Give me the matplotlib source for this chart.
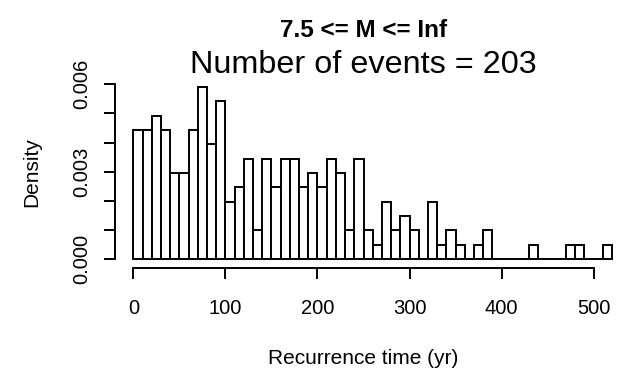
import matplotlib
matplotlib.use("Agg")
import matplotlib.pyplot as plt
import numpy as np

# Data: histogram counts per 10-yr bin (0..520)
bin_edges = list(range(0, 530, 10))
counts = [9, 9, 10, 9, 6, 6, 9, 12, 8, 11,
          4, 5, 7, 2, 7, 5, 7, 7, 5, 6,
          5, 7, 6, 2, 7, 2, 1, 4, 2, 3,
          2, 0, 4, 1, 2, 1, 0, 1, 2, 0,
          0, 0, 0, 1, 0, 0, 0, 1, 1, 0,
          0, 1]
n_events = 203
bin_width = 10
density = [c / (n_events * bin_width) for c in counts]

xticks = [0, 100, 200, 300, 400, 500]
yticks = [0.000, 0.001, 0.002, 0.003, 0.004, 0.005, 0.006]
ytick_labels = ["0.000", "", "", "0.003", "", "", "0.006"]

plt.rcParams['font.family'] = ['Liberation Sans', 'DejaVu Sans']

W, H = 625, 377
fig = plt.figure(figsize=(W / 100, H / 100), dpi=100)

left_px, right_px = 115, 612
top_px, bottom_px = 80, 268.3
ax = fig.add_axes([left_px / W, 1 - bottom_px / H,
                   (right_px - left_px) / W, (bottom_px - top_px) / H])

lw = 1.4
ax.bar(bin_edges[:-1], density, width=bin_width, align='edge',
       facecolor='white', edgecolor='black', linewidth=lw, clip_on=False)

ax.set_xlim(-20, 520)
ax.set_ylim(-0.00032, 0.00615)

for s in ['top', 'right']:
    ax.spines[s].set_visible(False)
ax.spines['left'].set_bounds(0, 0.006)
ax.spines['bottom'].set_bounds(0, 500)
ax.spines['left'].set_linewidth(lw)
ax.spines['bottom'].set_linewidth(lw)

ax.set_xticks(xticks)
ax.set_xticklabels([str(t) for t in xticks])
ax.set_yticks(yticks)
ax.set_yticklabels(ytick_labels)
ax.tick_params(axis='both', direction='out', length=8, width=lw, labelsize=14.5)
ax.tick_params(axis='x', pad=14)
ax.tick_params(axis='y', pad=9, labelrotation=90)
for lab in ax.get_yticklabels():
    lab.set_verticalalignment('center')

cx = (left_px + right_px) / 2 / W
fig.text(cx, 1 - 37.3 / H, "7.5 <= M <= Inf", ha='center', va='baseline',
         fontsize=17.5, fontweight='bold')
fig.text(cx, 1 - 73.3 / H, "Number of events = 203", ha='center', va='baseline',
         fontsize=23.3)
fig.text(cx, 1 - 359 / H, "Recurrence time (yr)", ha='center', va='center',
         fontsize=15)
fig.text(31.7 / W, 1 - 172.5 / H, "Density", ha='center', va='center',
         rotation=90, fontsize=15)

fig.savefig("out.png", dpi=100)
